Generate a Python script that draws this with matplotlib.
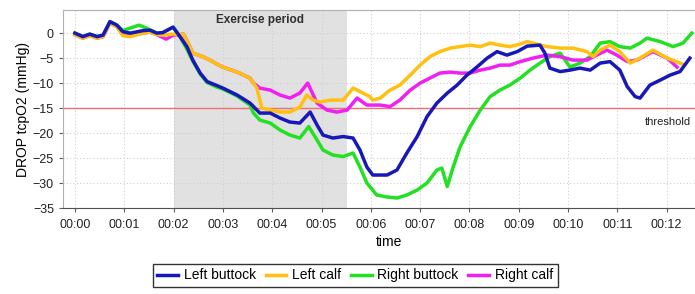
import matplotlib
matplotlib.use("Agg")
import matplotlib.pyplot as plt
from matplotlib.ticker import FuncFormatter

plt.rcParams["font.family"] = ["Liberation Sans", "DejaVu Sans"]

# time in minutes, drop in mmHg
t_lb = [0.00, 0.16, 0.30, 0.45, 0.57, 0.71, 0.85, 0.97, 1.12, 1.38, 1.52, 1.66, 1.78, 1.99, 2.13,
        2.27, 2.39, 2.54, 2.68, 2.88, 3.00, 3.29, 3.55, 3.75, 3.96, 4.16, 4.36, 4.56, 4.77, 4.91,
        5.03, 5.23, 5.44, 5.64, 5.78, 5.92, 6.04, 6.33, 6.53, 6.73, 6.94, 7.14, 7.34, 7.55, 7.75,
        7.95, 8.15, 8.36, 8.56, 8.76, 8.97, 9.17, 9.43, 9.53, 9.63, 9.84, 10.04, 10.24, 10.45,
        10.65, 10.85, 11.05, 11.20, 11.36, 11.46, 11.66, 11.87, 12.07, 12.27, 12.47]
left_buttock = [0, -0.7, -0.2, -0.7, -0.4, 2.3, 1.6, 0.3, 0, 0.5, 0.6, 0, 0.1, 1.2, -0.7,
                -2.7, -5.4, -8, -9.7, -10.5, -11, -12.4, -14, -16, -16, -17, -17.8, -18, -15.8, -18.4,
                -20.4, -21, -20.7, -21, -23.4, -26.8, -28.4, -28.4, -27.4, -24, -20.7, -16.7, -14, -12, -10.4,
                -8.4, -6.8, -5, -3.7, -4.4, -3.7, -2.6, -2.4, -4, -7, -7.7, -7.4, -7, -7.4,
                -6, -5.7, -7.4, -10.7, -12.7, -13, -10.4, -9.4, -8.4, -7.7, -5]

t_lc = [0.00, 0.16, 0.30, 0.45, 0.57, 0.71, 0.85, 0.97, 1.12, 1.38, 1.52, 1.66, 1.78, 1.99, 2.13,
        2.20, 2.27, 2.39, 2.59, 2.74, 2.88, 3.00, 3.29, 3.55, 3.69, 3.79, 3.96, 4.16, 4.36, 4.56,
        4.70, 4.83, 4.97, 5.17, 5.44, 5.64, 5.78, 5.98, 6.04, 6.19, 6.39, 6.59, 6.80, 7.00, 7.20,
        7.40, 7.61, 7.81, 8.01, 8.22, 8.42, 8.62, 8.82, 9.03, 9.17, 9.29, 9.57, 9.84, 10.10, 10.38,
        10.51, 10.65, 10.85, 11.05, 11.26, 11.46, 11.72, 12.01, 12.27, 12.35]
left_calf = [-0.3, -1, -0.5, -1, -0.7, 2.0, 1.3, -0.5, -0.7, 0, 0.2, -0.3, -0.4, -0.2, -0.3,
             -0.2, -1.5, -4, -4.7, -5.4, -6.2, -6.8, -7.8, -9, -11, -15, -15.4, -15.8, -15.8, -14.8,
             -12.4, -13.4, -13.8, -13.4, -13.4, -11, -11.7, -12.7, -13.4, -13, -11.4, -10.4, -8.4, -6.4, -4.7,
             -3.7, -3, -2.7, -2.4, -2.7, -2, -2.4, -2.7, -2.2, -1.7, -2, -2.7, -3, -3, -3.7,
             -4.7, -3.4, -2.4, -3.7, -6, -5, -3.4, -5, -6, -6.3]

t_rb = [0.00, 0.16, 0.30, 0.45, 0.57, 0.71, 0.85, 0.97, 1.12, 1.30, 1.45, 1.66, 1.78, 1.99, 2.13,
        2.27, 2.39, 2.54, 2.68, 2.88, 3.00, 3.29, 3.55, 3.62, 3.75, 3.96, 4.16, 4.36, 4.56, 4.74,
        4.91, 5.03, 5.23, 5.44, 5.64, 5.78, 5.92, 6.12, 6.33, 6.53, 6.73, 6.94, 7.14, 7.34, 7.44,
        7.55, 7.67, 7.81, 8.01, 8.22, 8.42, 8.62, 8.82, 9.03, 9.23, 9.43, 9.63, 9.84, 10.04, 10.24,
        10.45, 10.65, 10.85, 11.05, 11.26, 11.46, 11.60, 11.87, 12.13, 12.33, 12.51]
right_buttock = [0, -0.7, -0.2, -0.7, -0.4, 2.3, 1.6, 0.5, 1.0, 1.6, 1.0, 0, 0.1, 1.2, -0.7,
                 -3.2, -5.6, -8.2, -9.9, -10.8, -11.2, -12.6, -14.4, -16, -17.4, -18, -19.4, -20.4, -21, -18.7,
                 -21.4, -23.4, -24.4, -24.7, -24, -26.8, -30, -32.4, -32.8, -33, -32.4, -31.4, -30, -27.4, -27,
                 -30.7, -26.8, -22.8, -18.8, -15.4, -12.7, -11.4, -10.4, -9, -7.4, -6, -4.7, -4, -6.8, -6,
                 -4.7, -2, -1.7, -2.7, -3, -2, -1, -1.7, -2.7, -2, 0]

t_rc = [0.00, 0.16, 0.30, 0.45, 0.57, 0.71, 0.85, 0.97, 1.12, 1.38, 1.52, 1.66, 1.85, 1.99, 2.13,
        2.20, 2.27, 2.39, 2.59, 2.74, 2.88, 3.00, 3.29, 3.55, 3.62, 3.75, 3.96, 4.16, 4.36, 4.56,
        4.72, 4.91, 5.11, 5.31, 5.52, 5.72, 5.92, 6.19, 6.39, 6.59, 6.80, 7.00, 7.20, 7.40, 7.61,
        7.81, 8.01, 8.22, 8.42, 8.62, 8.82, 9.03, 9.29, 9.57, 9.84, 10.10, 10.38, 10.58, 10.79, 10.99,
        11.20, 11.40, 11.72, 12.01, 12.21]
right_calf = [-0.3, -1, -0.5, -1, -0.7, 2.0, 1.3, -0.3, -0.5, 0, 0.2, -0.3, -1.2, -0.4, -0.3,
              -0.2, -1.5, -4, -4.7, -5.4, -6.2, -6.8, -7.8, -9, -10, -11, -11.4, -12.4, -13, -12,
              -10, -14, -15.4, -15.8, -15.4, -13, -14.4, -14.4, -14.7, -13.4, -11.4, -10, -9, -8, -7.8,
              -8, -8, -7.4, -7, -6.4, -6.4, -5.7, -5, -4.4, -4.7, -5.4, -5.4, -4.4, -3.4, -4.4,
              -5.7, -5.4, -3.7, -5, -6.8]

exercise = (2.0, 5.52)
threshold = -15
ticks = list(range(0, 13))

fig = plt.figure(figsize=(6.95, 2.94), dpi=100)
ax = fig.add_axes([0.0906, 0.2925, 0.9396, 0.673])

ax.axvspan(exercise[0], exercise[1], color="#e1e1e1", zorder=0, lw=0)
ax.axhline(threshold, color="#f07070", lw=1.0, zorder=1)

lw = 2.5
ax.plot(t_rb, right_buttock, color="#22e022", lw=lw, label="Right buttock", zorder=3)
ax.plot(t_rc, right_calf, color="#f020f0", lw=lw, label="Right calf", zorder=3)
ax.plot(t_lc, left_calf, color="#ffc010", lw=lw, label="Left calf", zorder=3)
ax.plot(t_lb, left_buttock, color="#1818b8", lw=lw, label="Left buttock", zorder=4)

ax.set_xlim(-0.243, 13.0)
ax.set_ylim(-35, 4.6)
ax.set_xticks(ticks)
ax.xaxis.set_major_formatter(FuncFormatter(lambda v, p: "00:%02d" % int(round(v))))
ax.set_yticks(range(-35, 1, 5))
ax.grid(True, color="#d0d0d0", linestyle=(0, (1, 2)), lw=0.8)
ax.set_axisbelow(True)
ax.tick_params(labelsize=9, length=3, color="#606060", labelcolor="#202020")
ax.tick_params(axis="x", pad=5)

for s in ["left", "top"]:
    ax.spines[s].set_color("#b0b0b0")
ax.spines["bottom"].set_color("#505050")
ax.spines["right"].set_visible(False)

ax.set_xlabel("time", fontsize=10, labelpad=3)
ax.set_ylabel("DROP tcpO2 (mmHg)", fontsize=10, labelpad=2)

ax.text(3.75, 2.6, "Exercise period", fontsize=8.5, ha="center", va="center",
        fontweight="bold", color="#303030")
ax.text(11.55, -17.8, "threshold", fontsize=8, ha="left", va="center", color="#202020",
        clip_on=False)

handles, labels = ax.get_legend_handles_labels()
order = [3, 2, 0, 1]
leg = fig.legend([handles[i] for i in order], [labels[i] for i in order],
                 loc="center", bbox_to_anchor=(0.511, 0.063), ncol=4, fontsize=10,
                 frameon=True, fancybox=False, handlelength=1.5, handletextpad=0.4,
                 columnspacing=0.7, borderpad=0.35)
leg.get_frame().set_edgecolor("black")
leg.get_frame().set_linewidth(1.0)

fig.savefig("out.png", dpi=100)
